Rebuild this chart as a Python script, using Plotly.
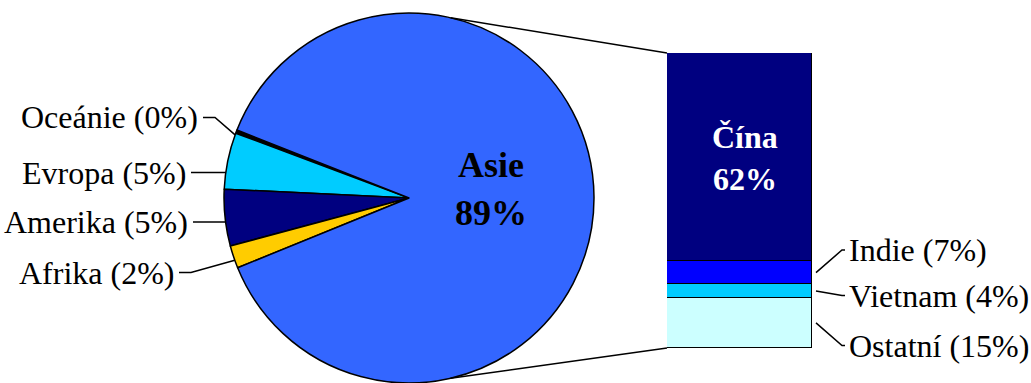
import math
import plotly.graph_objects as go

# Share of world production by region (pie)
regions = ["Oceánie", "Evropa", "Amerika", "Afrika", "Asie"]
region_share = [0.3, 5, 5, 2, 89]
region_colors = ["#000000", "#00CCFF", "#000080", "#FFCC00", "#3366FF"]

# Breakdown of Asia (bar)
countries = ["Čína", "Indie", "Vietnam", "Ostatní"]
country_share = [62, 7, 4, 15]
country_colors = ["#000080", "#0000FF", "#00CCFF", "#CCFFFF"]

W, H = 1031, 383
FONT = "Liberation Serif, Times New Roman, serif"
LABEL_SIZE = 32

# Geometry in pixels
PIE_CX, PIE_CY, PIE_R = 409, 198, 185
PIE_START = 159.5          # angle (deg, counter-clockwise from 3 o'clock) of the first slice edge
BAR_X0, BAR_X1, BAR_TOP, BAR_BOT = 667, 812, 53, 348

# Label placement (pixels): right edge / left edge and vertical centre
region_label_pos = {"Oceánie": (200, 117.5), "Evropa": (188, 172.5),
                    "Amerika": (190, 222), "Afrika": (176, 272.5)}
country_label_pos = {"Indie": (847, 250), "Vietnam": (847, 295.5), "Ostatní": (847, 345.5)}


def px(x):
    return x / W


def py(y):
    return 1 - y / H


def on_circle(theta_deg, rf=1.0):
    t = math.radians(theta_deg)
    return PIE_CX + rf * PIE_R * math.cos(t), PIE_CY - rf * PIE_R * math.sin(t)


fig = go.Figure()

fig.add_trace(go.Pie(
    labels=regions, values=region_share, sort=False,
    direction="counterclockwise", rotation=90 - PIE_START,
    marker=dict(colors=region_colors, line=dict(color="black", width=1.5)),
    textinfo="none", hoverinfo="label+percent", showlegend=False,
    domain=dict(x=[px(PIE_CX - PIE_R), px(PIE_CX + PIE_R)],
                y=[py(PIE_CY + PIE_R), py(PIE_CY - PIE_R)]),
))

# Stacked bar, bottom segment first
for name, v, c in reversed(list(zip(countries, country_share, country_colors))):
    fig.add_trace(go.Bar(
        x=[0], y=[v], name=name, width=1, showlegend=False,
        marker=dict(color=c, line=dict(color="black", width=1.5)),
        hovertemplate=name + ": %{y}%<extra></extra>",
    ))

asia_total = sum(country_share)

shapes = []
annotations = []


def line(points):
    path = "M " + " L ".join(f"{px(x)},{py(y)}" for x, y in points)
    shapes.append(dict(type="path", path=path, xref="paper", yref="paper",
                       line=dict(color="black", width=1.5)))


def text(x, y, s, size, anchor="center", color="black"):
    annotations.append(dict(x=px(x), y=py(y), xref="paper", yref="paper", text=s,
                            showarrow=False, xanchor=anchor, yanchor="middle",
                            font=dict(family=FONT, size=size, color=color)))


# Slice edges and mid-angles
total = sum(region_share)
edges = [PIE_START]
for v in region_share:
    edges.append(edges[-1] + v / total * 360)

for i, (name, v) in enumerate(zip(regions, region_share)):
    if name not in region_label_pos:
        continue
    a0, a1 = edges[i], edges[i + 1]
    xr, yc = region_label_pos[name]
    # leader meets the rim level with the label when that point lies in the slice
    s = (PIE_CY - yc) / PIE_R
    level = 180 - math.degrees(math.asin(max(-1, min(1, s))))
    target = level if a0 <= level <= a1 else (a0 + a1) / 2
    text(xr, yc, f"{name} ({round(v)}%)", LABEL_SIZE, anchor="right")
    line([(xr + 3, yc), (xr + 15, yc), on_circle(target)])

# Asia label inside the pie
asia_share = region_share[regions.index("Asie")]
text(491, 165, "<b>Asie</b>", 36)
text(491, 213, f"<b>{asia_share}%</b>", 36)

# Bar segment centres in pixels
scale = (BAR_BOT - BAR_TOP) / asia_total
base = 0
seg_center = {}
for name, v in reversed(list(zip(countries, country_share))):
    seg_center[name] = BAR_BOT - (base + v / 2) * scale
    base += v

for name, v in zip(countries, country_share):
    if name in country_label_pos:
        xl, yc = country_label_pos[name]
        text(xl, yc, f"{name} ({v}%)", LABEL_SIZE, anchor="left")
        line([(BAR_X1 + 4, seg_center[name]), (xl - 5, yc), (xl - 2, yc)])

# Label inside the largest bar segment
text(745, 137.5, f"<b>{countries[0]}</b>", 32, color="white")
text(745, 179, f"<b>{country_share[0]}%</b>", 32, color="white")

# Connectors from the pie to the bar
line([on_circle(77), (BAR_X0, BAR_TOP)])
line([on_circle(-77), (BAR_X0, BAR_BOT)])

fig.update_layout(
    width=W, height=H,
    margin=dict(l=0, r=0, t=0, b=0),
    paper_bgcolor="white", plot_bgcolor="white",
    barmode="stack", bargap=0,
    xaxis=dict(domain=[px(BAR_X0), px(BAR_X1)], range=[-0.5, 0.5], visible=False, fixedrange=True),
    yaxis=dict(domain=[py(BAR_BOT), py(BAR_TOP)], range=[0, asia_total], visible=False, fixedrange=True),
    shapes=shapes, annotations=annotations,
    showlegend=False,
)

fig.write_html("out.html")
